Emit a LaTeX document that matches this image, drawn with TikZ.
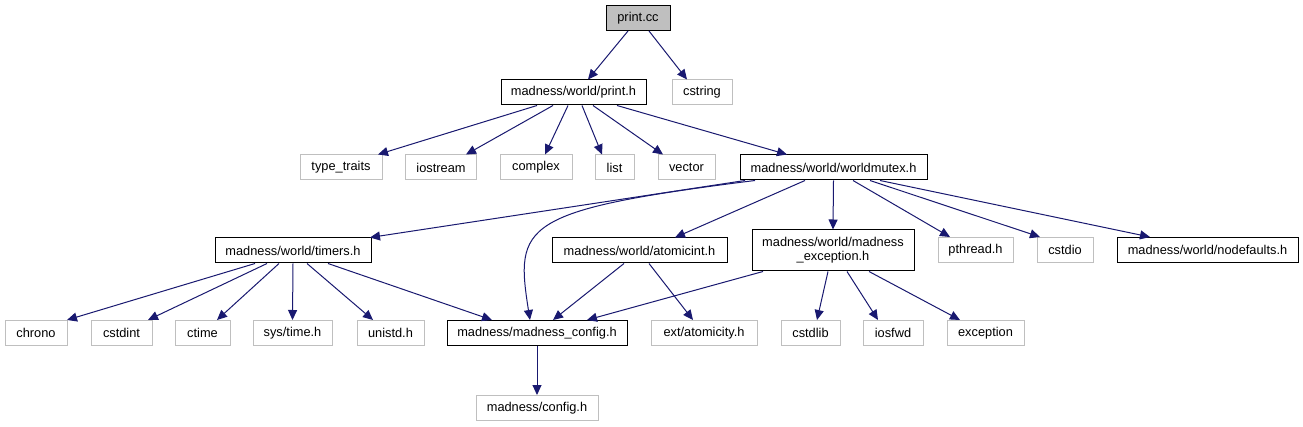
\documentclass[tikz,border=0pt]{standalone}
\usepackage{fontspec}
\setmainfont{Liberation Sans}
\usetikzlibrary{arrows.meta}
\definecolor{edgec}{HTML}{191970}
\definecolor{grayc}{HTML}{BFBFBF}
\begin{document}
\begin{tikzpicture}[x=1pt,y=-1pt,
 box/.style={draw=black,line width=1pt,inner sep=0pt,font=\fontsize{12.8}{14}\selectfont,align=center,minimum height=25pt},
 ext/.style={box,draw=grayc},
 edge/.style={draw=edgec,line width=1pt,-{Triangle[length=10pt,width=9pt]}}]
\fill[white] (0,0) rectangle (1303,427);
\useasboundingbox (0,0) rectangle (1303,427);
% nodes
\node[box,fill=grayc,minimum width=64pt] (pcc) at (638,18) {print.cc};
\node[box,minimum width=145pt] (ph) at (573.5,92.5) {madness/world/print.h};
\node[ext,minimum width=60pt] (cs) at (702,92.5) {cstring};
\node[ext,minimum width=82pt] (tt) at (341,167.5) {type\_traits};
\node[ext,minimum width=71pt] (ios) at (441,167.5) {iostream};
\node[ext,minimum width=72pt] (cx) at (536,167.5) {complex};
\node[ext,minimum width=39pt] (li) at (614.5,167.5) {list};
\node[ext,minimum width=57pt] (ve) at (686.5,167.5) {vector};
\node[box,minimum width=187pt] (wm) at (833.5,167.5) {madness/world/worldmutex.h};
\node[box,minimum width=156pt] (ti) at (293,250.5) {madness/world/timers.h};
\node[box,minimum width=175pt] (ai) at (639.5,250.5) {madness/world/atomicint.h};
\node[box,minimum width=162pt,minimum height=41pt] (me) at (833,250.5) {madness/world/madness\\\_exception.h};
\node[ext,minimum width=75pt] (pt) at (975.5,250) {pthread.h};
\node[ext,minimum width=56pt] (cd) at (1065,250) {cstdio};
\node[box,minimum width=181pt] (nd) at (1207.5,250) {madness/world/nodefaults.h};
\node[ext,minimum width=62pt] (ch) at (36,333) {chrono};
\node[ext,minimum width=61pt] (ci) at (121.5,333) {cstdint};
\node[ext,minimum width=55pt] (ct) at (202.5,333) {ctime};
\node[ext,minimum width=79pt] (st) at (292.5,333) {sys/time.h};
\node[ext,minimum width=67pt] (un) at (390.5,333) {unistd.h};
\node[box,minimum width=180pt] (mc) at (537,333) {madness/madness\_config.h};
\node[ext,minimum width=106pt] (ea) at (704,333) {ext/atomicity.h};
\node[ext,minimum width=59pt] (csl) at (810.5,333) {cstdlib};
\node[ext,minimum width=60pt] (isf) at (893,333) {iosfwd};
\node[ext,minimum width=77pt] (ex) at (985.5,333) {exception};
\node[ext,minimum width=122pt] (cfg) at (537,408) {madness/config.h};
% edges
\draw[edge] ([xshift=-10]pcc.south) -- ([xshift=14.5]ph.north);
\draw[edge] ([xshift=11]pcc.south) -- ([xshift=-15]cs.north);
\draw[edge] ([xshift=-36.5]ph.south) -- ([xshift=37]tt.north);
\draw[edge] ([xshift=-20.5]ph.south) -- ([xshift=25]ios.north);
\draw[edge] ([xshift=-5.5]ph.south) -- ([xshift=9]cx.north);
\draw[edge] ([xshift=8.5]ph.south) -- ([xshift=-12.5]li.north);
\draw[edge] ([xshift=19.5]ph.south) -- ([xshift=-23.5]ve.north);
\draw[edge] ([xshift=43.5]ph.south) -- ([xshift=-46.5]wm.north);
\draw[edge] ([xshift=-88.5]wm.south) -- ([xshift=77]ti.north);
\draw[edge] ([xshift=-78.5]wm.south) .. controls (520,210) and (515,225) .. ([xshift=-7]mc.north);
\draw[edge] ([xshift=-28.5]wm.south) -- ([xshift=35.5]ai.north);
\draw[edge] (wm.south) -- (me.north);
\draw[edge] ([xshift=19.5]wm.south) -- ([xshift=-25.5]pt.north);
\draw[edge] ([xshift=36.5]wm.south) -- ([xshift=-25]cd.north);
\draw[edge] ([xshift=46.5]wm.south) -- ([xshift=-57.5]nd.north);
\draw[edge] ([xshift=-38]ti.south) -- ([xshift=31]ch.north);
\draw[edge] ([xshift=-26]ti.south) -- ([xshift=26.5]ci.north);
\draw[edge] ([xshift=-14]ti.south) -- ([xshift=14.5]ct.north);
\draw[edge] (ti.south) -- (st.north);
\draw[edge] ([xshift=14]ti.south) -- ([xshift=-17.5]un.north);
\draw[edge] ([xshift=35]ti.south) -- ([xshift=-45]mc.north);
\draw[edge] ([xshift=-15.5]ai.south) -- ([xshift=16]mc.north);
\draw[edge] ([xshift=9.5]ai.south) -- ([xshift=-11]ea.north);
\draw[edge] ([xshift=-70]me.south) -- ([xshift=50]mc.north);
\draw[edge] ([xshift=-5]me.south) -- ([xshift=6.5]csl.north);
\draw[edge] ([xshift=14]me.south) -- ([xshift=-15]isf.north);
\draw[edge] ([xshift=36]me.south) -- ([xshift=-25.5]ex.north);
\draw[edge] (mc.south) -- (cfg.north);
\end{tikzpicture}
\end{document}
